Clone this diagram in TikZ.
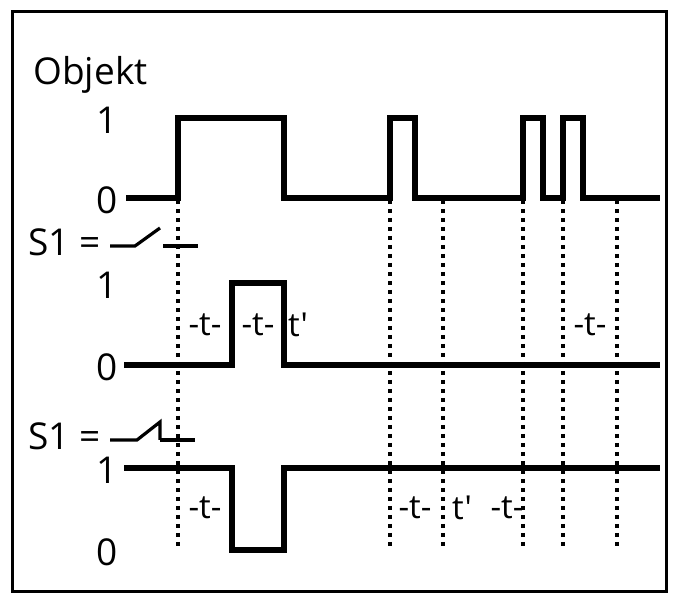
\documentclass[tikz,border=0pt]{standalone}
\usepackage{fontspec}
\setmainfont{Open Sans}[Ligatures=NoCommon]
\newfontfamily\plainfont{Open Sans}[Mapping=]
\begin{document}
\begin{tikzpicture}[x=0.5pt,y=-0.5pt,
 sig/.style={line width=2.6pt,line join=miter},
 dot/.style={line width=1.8pt,dash pattern=on 2pt off 2.5pt},
 lab/.style={font=\plainfont\fontsize{16.5}{16.5}\selectfont,inner sep=0pt},
 big/.style={font=\fontsize{18.5}{18.5}\selectfont,inner sep=0pt}]
\useasboundingbox (0,0) rectangle (676,604);
\draw[line width=1.5pt] (12,12) rectangle (666,592);
\node[big,anchor=west] (obj) at (33,75) {Objekt};
\node[big] (a1) at (107,120) {1};
\node[big] (a0) at (107,200) {0};
\draw[sig] (126,198) -- (178,198) -- (178,118) -- (284,118) -- (284,198) -- (390,198) -- (390,118) -- (415,118) -- (415,198) -- (523,198) -- (523,118) -- (543,118) -- (543,198) -- (563,198) -- (563,118) -- (583,118) -- (583,198) -- (660,198);
\foreach \x/\t in {178/550,390/550,443/550,523/550,563/550,617/550}
  \draw[dot] (\x,200) -- (\x,\t);
\node[big,anchor=west] (s1a) at (28,242) {S1 =};
\draw[line width=1.6pt] (110,246) -- (135,246) -- (160,228);
\draw[line width=1.6pt] (163,246) -- (198,246);
\node[big] (b1) at (107,285) {1};
\node[big] (b0) at (107,367) {0};
\draw[sig] (124,365) -- (232,365) -- (232,283) -- (284,283) -- (284,365) -- (660,365);
\node[lab] (t1) at (205,325) {-t-};
\node[lab] (t2) at (258,325) {-t-};
\node[lab] (t3) at (298,325) {t'};
\node[lab] (t4) at (590,325) {-t-};
\node[big,anchor=west] (s1b) at (28,436) {S1 =};
\draw[line width=1.6pt] (110,440) -- (137,440) -- (160,422) -- (160,440);
\draw[line width=1.6pt] (160,440) -- (195,440);
\node[big] (c1) at (107,470) {1};
\node[big] (c0) at (107,552) {0};
\draw[sig] (124,468) -- (232,468) -- (232,550) -- (284,550) -- (284,468) -- (660,468);
\node[lab] (u1) at (205,508) {-t-};
\node[lab] (u2) at (415,508) {-t-};
\node[lab] (u3) at (462,508) {t'};
\node[lab] (u4) at (507,508) {-t-};
\end{tikzpicture}
\end{document}
